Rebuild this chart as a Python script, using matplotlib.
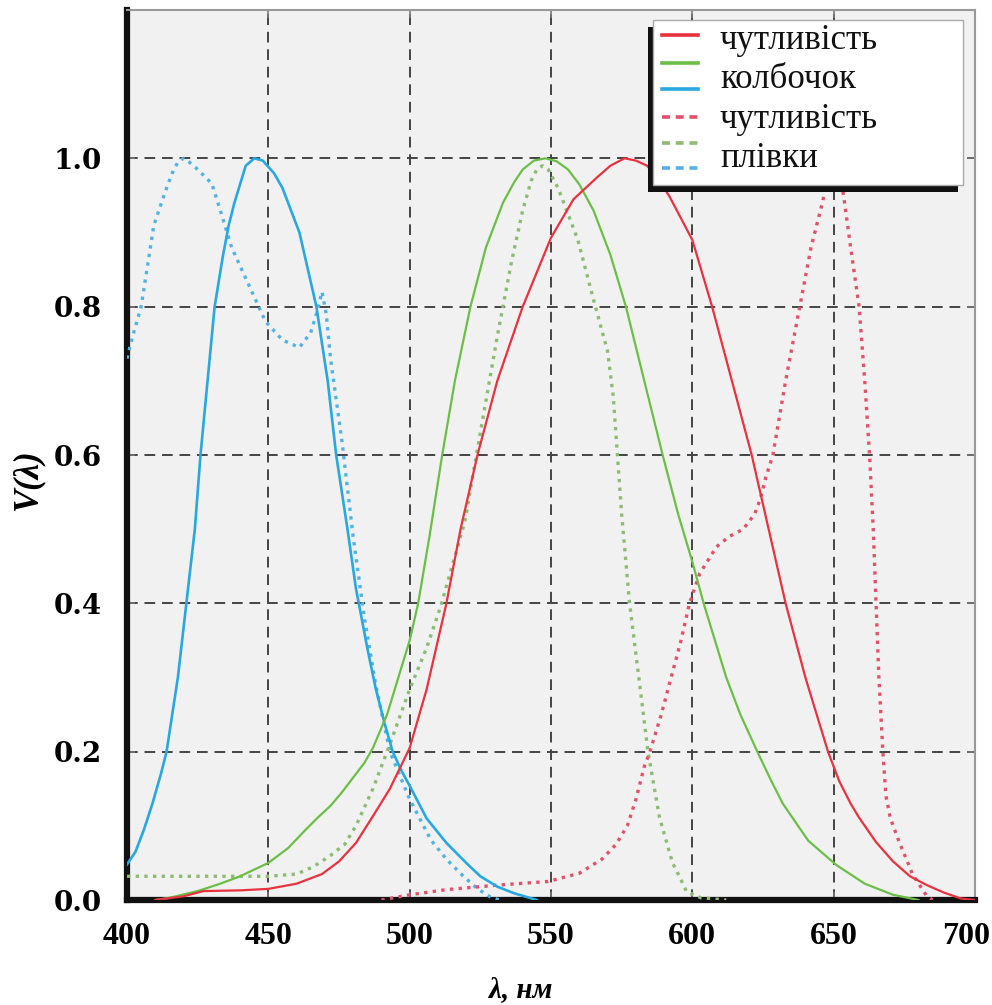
import matplotlib
matplotlib.use("Agg")
import matplotlib.pyplot as plt
from matplotlib.patches import Rectangle
from matplotlib.lines import Line2D
from matplotlib.transforms import ScaledTranslation

# cone sensitivity (solid lines)
wl_s = [400, 403, 406, 409, 412, 414, 418, 421, 424, 426, 429, 431, 434, 436, 438, 440, 442, 445,
        448, 452, 455, 461, 467, 471, 474, 478, 481, 485, 488, 491, 494, 497, 500, 506, 513, 520,
        525, 531, 537, 545]
cone_s = [0.048, 0.065, 0.095, 0.13, 0.17, 0.2, 0.3, 0.4, 0.5, 0.6, 0.72, 0.8, 0.87, 0.91, 0.94,
          0.965, 0.99, 1.0, 0.997, 0.98, 0.96, 0.9, 0.8, 0.7, 0.6, 0.5, 0.42, 0.34, 0.285, 0.24,
          0.2, 0.175, 0.154, 0.11, 0.077, 0.05, 0.032, 0.018, 0.009, 0.0]

wl_m = [410, 415, 425, 433, 440, 450, 457, 463, 468, 472, 476, 480, 484, 487, 492, 496, 500, 503,
        507, 511.5, 516, 521.5, 527, 533, 537, 540, 544, 548, 552, 556, 560, 565, 571, 576.5, 583,
        589.5, 595, 600, 604, 608, 612, 617, 623, 628, 632, 641, 651, 661, 671, 680]
cone_m = [0.0, 0.003, 0.012, 0.022, 0.032, 0.05, 0.07, 0.094, 0.113, 0.127, 0.145, 0.165, 0.185,
          0.205, 0.25, 0.3, 0.35, 0.4, 0.49, 0.6, 0.7, 0.8, 0.88, 0.94, 0.968, 0.985, 0.997, 1.0,
          0.996, 0.985, 0.965, 0.93, 0.87, 0.8, 0.7, 0.6, 0.52, 0.456, 0.4, 0.35, 0.3, 0.25, 0.2,
          0.16, 0.13, 0.08, 0.047, 0.022, 0.007, 0.0]

wl_l = [410, 420, 427, 440, 450, 460, 469, 475, 481, 487, 493, 500, 506, 513, 518, 524, 531, 540,
        550, 558, 566.5, 571, 576, 580, 584, 588, 592, 600, 607, 614, 621, 627, 633, 640, 644, 648,
        652, 656, 659, 665, 671, 677, 683, 689, 695, 700]
cone_l = [0.0, 0.005, 0.012, 0.013, 0.015, 0.022, 0.035, 0.052, 0.077, 0.113, 0.15, 0.205, 0.284,
          0.4, 0.5, 0.6, 0.7, 0.8, 0.893, 0.945, 0.975, 0.99, 1.0, 0.997, 0.99, 0.972, 0.948, 0.89,
          0.8, 0.7, 0.6, 0.5, 0.4, 0.3, 0.25, 0.2, 0.16, 0.13, 0.111, 0.078, 0.052, 0.032, 0.02,
          0.01, 0.002, 0.0]

# film sensitivity (dotted lines)
wl_fb = [400, 402, 405, 409.5, 414, 416, 418, 420, 422, 425, 430, 433, 437, 443, 449, 455, 461,
         465, 467, 469, 470.5, 472, 476, 480, 484, 488, 493, 500, 507.5, 513, 519, 524, 529, 532]
film_b = [0.73, 0.76, 0.8, 0.91, 0.96, 0.98, 0.995, 1.0, 0.995, 0.985, 0.966, 0.93, 0.88, 0.83,
          0.78, 0.755, 0.745, 0.765, 0.79, 0.82, 0.79, 0.73, 0.62, 0.49, 0.38, 0.29, 0.2, 0.136,
          0.081, 0.055, 0.032, 0.015, 0.003, 0.0]

wl_fg = [400, 450, 460, 466, 472, 477, 481, 487, 493, 500, 506, 511, 515, 519.5, 525, 531, 536,
         540, 543, 545, 547, 549, 552.5, 556, 559.5, 565, 570, 572, 573.5, 575, 577.8, 581.4,
         584.3, 588.4, 593, 595.4, 598, 603, 612]
film_g = [0.032, 0.032, 0.035, 0.045, 0.06, 0.075, 0.1, 0.15, 0.21, 0.284, 0.34, 0.396, 0.45,
          0.51, 0.63, 0.76, 0.86, 0.93, 0.97, 0.985, 0.99, 0.985, 0.96, 0.925, 0.89, 0.81, 0.74,
          0.68, 0.6, 0.52, 0.4, 0.29, 0.2, 0.111, 0.05, 0.032, 0.011, 0.003, 0.0]

wl_fr = [490, 500, 513, 531, 549, 560, 568, 573, 577, 580, 583, 585, 589, 592, 596, 599, 602.6,
         608.5, 613, 618, 622, 624, 626, 628.5, 633, 638, 642, 646, 648, 650.5, 652, 653.5, 656,
         659, 661, 662.7, 664, 665, 666, 667.4, 668.5, 670, 673, 678, 683, 685]
film_r = [0.0, 0.007, 0.014, 0.02, 0.025, 0.036, 0.055, 0.075, 0.1, 0.135, 0.18, 0.2, 0.25, 0.293,
          0.35, 0.4, 0.44, 0.476, 0.49, 0.5, 0.52, 0.54, 0.57, 0.6, 0.7, 0.8, 0.88, 0.94, 0.975,
          1.0, 0.985, 0.95, 0.88, 0.8, 0.7, 0.6, 0.5, 0.4, 0.3, 0.2, 0.14, 0.111, 0.08, 0.034,
          0.005, 0.0]

x_ticks = [400, 450, 500, 550, 600, 650, 700]
y_ticks = [0.0, 0.2, 0.4, 0.6, 0.8, 1.0]
legend_text = ["чутливість", "колбочок", "чутливість", "плівки"]

RED, GREEN, BLUE = "#e8323f", "#6bbf47", "#29a8e0"
RED_D, GREEN_D, BLUE_D = "#e2506a", "#8dbb72", "#52b2e2"
DOT = (0, (1.0, 1.6))

W, H = 992, 1005
fig = plt.figure(figsize=(W / 100, H / 100), dpi=100)
ax = fig.add_axes([127 / W, 1 - 900 / H, (975 - 127) / W, 890 / H])
ax.set_facecolor("#f1f1f1")

ax.plot(wl_fb, film_b, color=BLUE_D, lw=2.4, ls=DOT, zorder=3)
ax.plot(wl_fg, film_g, color=GREEN_D, lw=2.4, ls=DOT, zorder=3)
ax.plot(wl_fr, film_r, color=RED_D, lw=2.4, ls=DOT, zorder=3)
ax.plot(wl_s, cone_s, color=BLUE, lw=1.9, zorder=4, solid_joinstyle="round")
ax.plot(wl_m, cone_m, color=GREEN, lw=1.6, zorder=4, solid_joinstyle="round")
ax.plot(wl_l, cone_l, color=RED, lw=1.6, zorder=4, solid_joinstyle="round")

ax.set_xlim(400, 700)
ax.set_ylim(0, 1.2)
ax.set_xticks(x_ticks)
ax.set_yticks(y_ticks)
ax.set_xticklabels([str(t) for t in x_ticks], fontfamily="Liberation Serif",
                   fontweight="bold", fontsize=23)
ax.set_yticklabels(["%.1f" % t for t in y_ticks], fontfamily="DejaVu Serif",
                   fontweight="bold", fontsize=20)
ax.tick_params(direction="in", length=6, width=1.2, color="#777777",
               top=True, right=True)
ax.tick_params(axis="x", pad=16)
ax.tick_params(axis="y", pad=18)
ax.grid(True, color="#444444", lw=1.4, ls=(0, (5.5, 3.5)), zorder=1)
ax.set_axisbelow(True)

# pull the last x label inside the figure
last = ax.get_xticklabels()[-1]
last.set_transform(last.get_transform() + ScaledTranslation(-9 / 100, 0, fig.dpi_scale_trans))

for side in ["left", "bottom"]:
    ax.spines[side].set_linewidth(4.5)
    ax.spines[side].set_color("#111111")
for side in ["top", "right"]:
    ax.spines[side].set_linewidth(1.5)
    ax.spines[side].set_color("#999999")

fig.text(521 / W, 1 - 990 / H, "λ, нм", fontfamily="Liberation Serif",
         fontweight="bold", fontstyle="italic", fontsize=21, ha="center", va="center")
fig.text(28 / W, 1 - 479 / H, "V(λ)", fontfamily="Liberation Serif",
         fontweight="bold", fontstyle="italic", fontsize=25, ha="center", va="center",
         rotation=90)

# legend box drawn by hand: handles and texts are laid out separately
def fx(px):
    return px / W

def fy(py):
    return 1 - py / H

fig.add_artist(Rectangle((fx(648), fy(192)), fx(958) - fx(648), fy(27) - fy(192),
                         transform=fig.transFigure, facecolor="#111111", edgecolor="none",
                         zorder=10))
fig.add_artist(Rectangle((fx(653), fy(185)), fx(963) - fx(653), fy(20) - fy(185),
                         transform=fig.transFigure, facecolor="white", edgecolor="#aaaaaa",
                         lw=1.0, zorder=11))

handle_rows = [35, 63, 89, 117, 143, 168]
handle_styles = [(RED, "-"), (GREEN, "-"), (BLUE, "-"),
                 (RED_D, (0, (2.2, 1.6))), (GREEN_D, (0, (2.2, 1.6))), (BLUE_D, (0, (2.2, 1.6)))]
for row, (col, ls) in zip(handle_rows, handle_styles):
    fig.add_artist(Line2D([fx(662), fx(698)], [fy(row), fy(row)], transform=fig.transFigure,
                          color=col, lw=2.6, ls=ls, zorder=12))

for base, label in zip([49, 88, 128, 167], legend_text):
    fig.text(fx(720), fy(base), label, fontfamily="Liberation Serif", fontsize=25,
             ha="left", va="baseline", color="#111111", zorder=12)

fig.savefig("out.png", dpi=100)
